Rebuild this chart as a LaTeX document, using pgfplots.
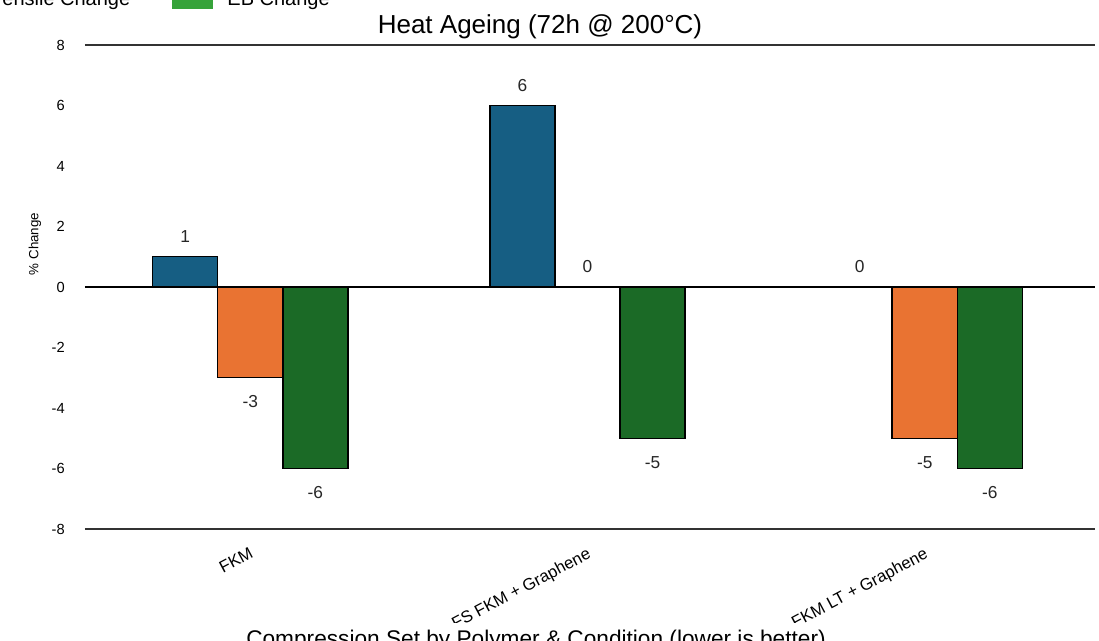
\documentclass[border=0pt]{standalone}
\usepackage{fontspec}
\setmainfont{Liberation Sans}
\usepackage{pgfplots}
\pgfplotsset{compat=1.18}
\usepackage{pgfplotstable}
\definecolor{cblue}{HTML}{165E83}
\definecolor{corange}{HTML}{E97332}
\definecolor{cgreen}{HTML}{1B6A26}
\definecolor{lgreen}{HTML}{36A33A}

\pgfplotstableread{
x y lab
0 1 1
1 6 6
2 0 0
}\tensile
\pgfplotstableread{
x y lab
0 -3 -3
1 0 0
2 -5 -5
}\hardness
\pgfplotstableread{
x y lab
0 -6 -6
1 -5 -5
2 -6 -6
}\eb

\pgfplotsset{mybar/.style={ybar, bar width=0.193, draw=black, line width=1.1pt, forget plot,
  nodes near coords, point meta=explicit symbolic,
  visualization depends on={rawy \as \rawy},
  every node near coord/.append style={font=\fontsize{13}{15}\selectfont, text=black!85, anchor=center, inner sep=0pt,
    yshift={\rawy<0 ? -18 : 15}}}}

\begin{document}
\begin{tikzpicture}
\useasboundingbox (0pt,0pt) rectangle (824.25pt,480pt);
\clip (0pt,0pt) rectangle (824.25pt,480pt);
\begin{scope}
\clip (0pt,13.5pt) rectangle (824.25pt,480pt);
\begin{axis}[
  at={(63.75pt,83.25pt)}, anchor=south west,
  width=757.5pt, height=363pt, scale only axis,
  xmin=-0.49, xmax=2.505, ymin=-8, ymax=8,
  ytick={-8,-6,-4,-2,0,2,4,6,8},
  yticklabels={-8,-6,-4,-2,0,2,4,6,8},
  xtick={0,1,2},
  xticklabels={FKM, FS FKM + Graphene, FKM LT + Graphene},
  major tick length=0pt,
  separate axis lines,
  y axis line style={draw=none},
  x axis line style={draw=black!80, line width=0.9pt},
  extra y ticks={0}, extra y tick labels={},
  extra y tick style={grid=major, major grid style={black, line width=1.5pt}},
  yticklabel style={font=\fontsize{11}{13}\selectfont, anchor=east, inner sep=0pt, xshift=-15pt},
  xticklabel style={font=\fontsize{12.5}{15}\selectfont, xshift=-1pt, yshift=-13pt, rotate=28, anchor=north east, inner sep=0pt},
  ylabel={\% Change},
  ylabel style={at={(-0.0495,0.589)}, anchor=center, font=\fontsize{10}{12}\selectfont},
  title={Heat Ageing (72h @ 200°C)},
  title style={at={(0.4505,1)}, anchor=base, yshift=3pt, font=\fontsize{19.5}{22}\selectfont},
  legend columns=-1,
  legend style={draw=none, fill=none, at={(0.2426,1.075)}, anchor=south east, inner sep=0pt,
    font=\fontsize{15}{18}\selectfont, nodes={inner sep=0pt},
    /tikz/every odd column/.append style={column sep=11pt},
    /tikz/every even column/.append style={column sep=31.5pt}},
]
\addlegendimage{legend image code/.code={\fill[corange] (0pt,-7pt) rectangle (30pt,3pt);}}
\addlegendentry{Hardness Change}
\addlegendimage{legend image code/.code={\fill[cblue] (0pt,-7pt) rectangle (30pt,3pt);}}
\addlegendentry{Tensile Change}
\addlegendimage{legend image code/.code={\fill[lgreen] (0pt,-7pt) rectangle (30pt,3pt);}}
\addlegendentry{EB Change}

\addplot[mybar, bar shift=-0.193, fill=cblue, every node near coord/.append style={xshift=-48.8pt}] table[x=x, y=y, meta=lab]{\tensile};
\addplot[mybar, bar shift=0, fill=corange] table[x=x, y=y, meta=lab]{\hardness};
\addplot[mybar, bar shift=0.193, fill=cgreen, every node near coord/.append style={xshift=48.8pt}] table[x=x, y=y, meta=lab]{\eb};
\end{axis}
\end{scope}
\node[font=\fontsize{17}{20}\selectfont, anchor=base, inner sep=0pt] at (402pt,-5pt) {Compression Set by Polymer \& Condition (lower is better)};
\end{tikzpicture}
\end{document}
